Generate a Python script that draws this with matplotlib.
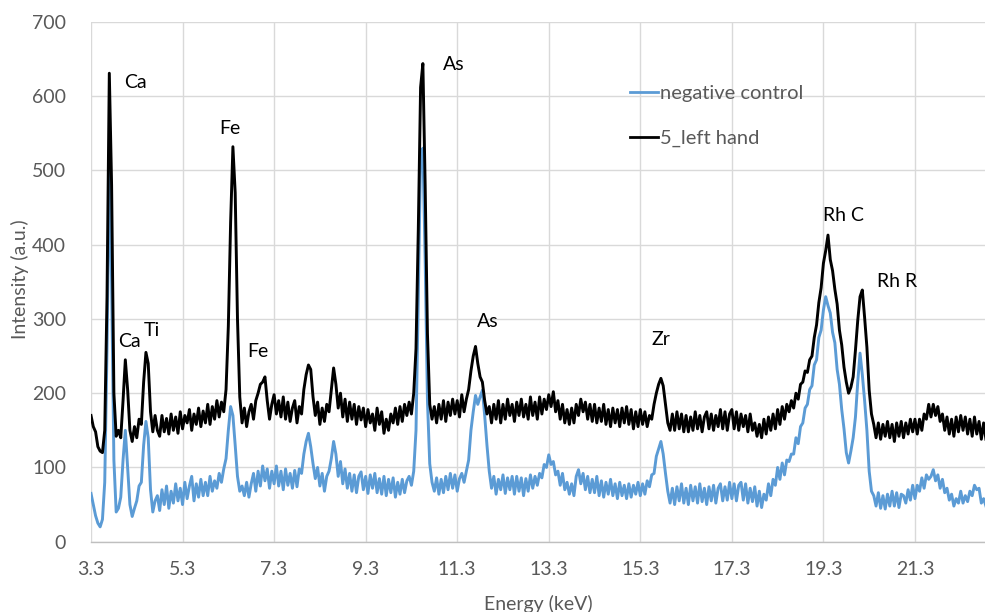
import numpy as np
import matplotlib
matplotlib.use("Agg")
import matplotlib.pyplot as plt

plt.rcParams['font.family'] = ['Lato', 'DejaVu Sans']

# Spectrum channels: start energy and channel width (keV)
energy_start = 3.30
energy_step = 0.05

# 5_left hand (black) intensities, one value per channel
left_hand = [
    170, 155, 148, 128, 122, 120, 150, 330, 631, 480,
    200, 142, 150, 140, 190, 245, 205, 150, 135, 155,
    140, 165, 158, 215, 255, 240, 175, 148, 170, 150,
    142, 170, 148, 166, 145, 172, 150, 168, 146, 175,
    152, 170, 160, 178, 150, 172, 158, 180, 155, 176,
    160, 185, 158, 182, 165, 190, 168, 188, 175, 205,
    290, 430, 532, 470, 300, 195, 160, 180, 155, 175,
    185, 165, 190, 200, 212, 215, 222, 190, 165, 185,
    198, 172, 190, 168, 195, 165, 188, 162, 180, 190,
    160, 182, 172, 205, 225, 238, 232, 195, 170, 188,
    158, 180, 162, 185, 175, 205, 234, 212, 180, 200,
    168, 192, 162, 188, 165, 185, 158, 182, 164, 180,
    155, 178, 160, 172, 150, 180, 158, 175, 146, 165,
    150, 172, 160, 180, 158, 182, 162, 185, 170, 188,
    172, 200, 260, 420, 612, 644, 480, 280, 185, 165,
    182, 160, 185, 165, 190, 162, 188, 170, 192, 172,
    190, 168, 198, 175, 192, 205, 230, 250, 263, 240,
    222, 215, 190, 172, 182, 160, 185, 165, 190, 160,
    185, 165, 192, 170, 185, 162, 188, 170, 192, 168,
    185, 165, 195, 170, 188, 165, 195, 172, 192, 178,
    198, 182, 202, 175, 190, 165, 185, 160, 178, 158,
    180, 160, 185, 170, 192, 175, 188, 165, 185, 162,
    185, 160, 180, 162, 185, 158, 178, 155, 180, 160,
    178, 155, 180, 160, 182, 158, 178, 152, 175, 155,
    178, 158, 175, 155, 170, 165, 185, 200, 212, 220,
    210, 185, 160, 150, 172, 150, 175, 152, 172, 148,
    170, 148, 168, 150, 175, 152, 170, 148, 168, 175,
    152, 172, 150, 170, 155, 178, 152, 175, 150, 172,
    178, 152, 175, 150, 172, 155, 170, 148, 172, 150,
    160, 142, 158, 140, 165, 145, 168, 150, 172, 152,
    178, 158, 182, 165, 185, 175, 190, 180, 200, 192,
    212, 215, 230, 228, 245, 250, 275, 292, 322, 342,
    375, 392, 413, 380, 365, 340, 320, 285, 265, 235,
    215, 200, 208, 222, 258, 298, 330, 339, 302, 262,
    204, 172, 158, 140, 160, 138, 158, 142, 162, 140,
    158, 135, 160, 142, 162, 140, 160, 145, 165, 148,
    165, 145, 165, 150, 172, 165, 185, 168, 185, 170,
    182, 162, 172, 150, 168, 145, 165, 142, 168, 148,
    170, 150, 168, 145, 165, 142, 168, 145, 162, 138,
    160, 138,
]

# negative control (blue) intensities, one value per channel
neg_control = [
    65, 50, 35, 25, 20, 30, 80, 260, 505, 350,
    110, 40, 45, 60, 110, 150, 100, 50, 34, 45,
    55, 75, 80, 130, 162, 140, 70, 40, 55, 62,
    42, 70, 50, 75, 45, 68, 52, 78, 55, 72,
    50, 80, 58, 75, 88, 55, 78, 60, 84, 62,
    80, 62, 88, 68, 82, 72, 92, 80, 98, 112,
    150, 182, 170, 130, 88, 68, 75, 62, 80, 60,
    78, 92, 68, 95, 75, 102, 82, 98, 72, 95,
    78, 102, 75, 95, 70, 98, 76, 92, 72, 96,
    74, 98, 92, 118, 135, 146, 128, 105, 85, 100,
    75, 92, 68, 88, 95, 112, 135, 118, 88, 108,
    78, 98, 72, 92, 68, 90, 66, 88, 94, 70,
    88, 65, 90, 72, 92, 66, 85, 64, 88, 62,
    84, 66, 86, 60, 80, 64, 84, 66, 82, 88,
    76, 95, 150, 330, 520, 530, 380, 190, 105, 80,
    68, 86, 64, 84, 66, 88, 70, 92, 72, 90,
    68, 85, 92, 80, 95, 110, 150, 175, 197, 185,
    195, 204, 170, 130, 95, 72, 88, 64, 84, 70,
    90, 65, 86, 70, 88, 64, 88, 68, 86, 62,
    85, 68, 90, 72, 88, 76, 92, 86, 104, 100,
    117, 104, 108, 90, 95, 76, 92, 70, 80, 64,
    78, 62, 88, 97, 78, 92, 70, 88, 66, 84,
    66, 88, 62, 82, 60, 80, 64, 84, 62, 78,
    58, 80, 62, 76, 58, 78, 60, 76, 64, 80,
    62, 78, 64, 82, 74, 90, 92, 115, 125, 135,
    118, 92, 68, 52, 72, 50, 74, 55, 78, 52,
    72, 50, 76, 55, 74, 52, 78, 54, 72, 50,
    74, 55, 76, 52, 72, 78, 55, 74, 56, 80,
    58, 78, 55, 76, 80, 56, 78, 52, 72, 54,
    74, 48, 68, 46, 64, 56, 78, 62, 84, 76,
    100, 84, 106, 90, 110, 108, 118, 118, 140, 132,
    155, 160, 180, 185, 205, 210, 238, 245, 275, 285,
    312, 330, 318, 308, 282, 268, 232, 212, 178, 152,
    120, 106, 122, 140, 168, 215, 254, 225, 190, 150,
    95, 68, 62, 48, 66, 45, 62, 44, 64, 48,
    68, 48, 66, 46, 64, 62, 52, 70, 56, 76,
    58, 76, 68, 86, 72, 90, 84, 88, 97, 82,
    90, 72, 84, 66, 72, 56, 64, 48, 58, 52,
    68, 52, 62, 54, 68, 62, 76, 70, 72, 52,
    58, 48,
]

series_names = ['negative control', '5_left hand']

x_ticks = [3.3, 5.3, 7.3, 9.3, 11.3, 13.3, 15.3, 17.3, 19.3, 21.3]
y_ticks = [0, 100, 200, 300, 400, 500, 600, 700]

peak_labels = ['Ca', 'Ca', 'Ti', 'Fe', 'Fe', 'As', 'As', 'Zr', 'Rh C', 'Rh R']
peak_label_x = [4.28, 4.15, 4.63, 6.34, 6.95, 11.23, 11.97, 15.75, 19.73, 20.91]
peak_label_y = [619, 269, 285, 557, 256, 643, 297, 272, 440, 351]

energy = np.round(energy_start + energy_step * np.arange(len(left_hand)), 2)

W, H = 985, 612
fig = plt.figure(figsize=(W / 100, H / 100), dpi=100)
ax = fig.add_axes([91 / W, 70.3 / H, 894 / W, 519.7 / H])

ax.plot(energy, neg_control, color='#5B9BD5', lw=2.1, label=series_names[0], zorder=3)
ax.plot(energy, left_hand, color='black', lw=2.1, label=series_names[1], zorder=4)

ax.set_xlim(3.3, 22.83)
ax.set_ylim(0, 700)
ax.set_xticks(x_ticks)
ax.set_xticklabels([f"{t:.1f}" for t in x_ticks])
ax.set_yticks(y_ticks)
ax.grid(True, color='#D9D9D9', lw=1)
ax.set_axisbelow(True)
for s in ['top', 'right', 'left']:
    ax.spines[s].set_visible(False)
ax.spines['bottom'].set_color('#BFBFBF')
ax.spines['bottom'].set_linewidth(1)
ax.tick_params(axis='both', length=0, labelsize=14, colors='#595959')
ax.tick_params(axis='x', pad=14)
ax.tick_params(axis='y', pad=18)

for lab, lx, ly in zip(peak_labels, peak_label_x, peak_label_y):
    ax.text(lx, ly, lab, ha='center', va='center', fontsize=14, color='black', zorder=5)

leg = ax.legend(loc='upper left', bbox_to_anchor=(0.603, 0.879), frameon=False,
                fontsize=14.5, handlelength=1.4, handletextpad=0.1, labelspacing=1.38,
                borderpad=0, borderaxespad=0, labelcolor='#595959')
for h in leg.get_lines():
    h.set_linewidth(2.0)

fig.text(538 / W, 1 - 604 / H, 'Energy (keV)', ha='center', va='center', fontsize=14, color='#595959')
fig.text(20 / W, 1 - 279 / H, 'Intensity (a.u.)', ha='center', va='center', rotation=90,
         fontsize=14, color='#595959')

fig.savefig('out.png', dpi=100)
